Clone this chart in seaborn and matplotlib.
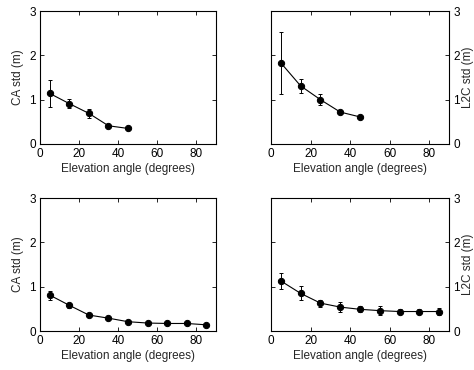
import numpy as np
import pandas as pd
import matplotlib
matplotlib.use("Agg")
import matplotlib.pyplot as plt
import seaborn as sns

# elevation angle bins (degrees)
elev_short = [5, 15, 25, 35, 45]
elev_full = [5, 15, 25, 35, 45, 55, 65, 75, 85]

# top row
ca_top = [1.14, 0.91, 0.69, 0.41, 0.35]
ca_top_err = [0.31, 0.10, 0.10, 0.03, 0.02]
l2c_top = [1.83, 1.31, 1.00, 0.72, 0.61]
l2c_top_err = [0.70, 0.15, 0.12, 0.04, 0.03]

# bottom row
ca_bot = [0.81, 0.58, 0.36, 0.29, 0.21, 0.18, 0.17, 0.17, 0.14]
ca_bot_err = [0.10, 0.06, 0.04, 0.03, 0.02, 0.02, 0.02, 0.02, 0.02]
l2c_bot = [1.13, 0.85, 0.63, 0.54, 0.49, 0.46, 0.44, 0.44, 0.44]
l2c_bot_err = [0.19, 0.16, 0.08, 0.11, 0.07, 0.10, 0.06, 0.06, 0.08]

sns.set_style("ticks")
plt.rcParams['font.family'] = ['Liberation Sans', 'DejaVu Sans']
plt.rcParams['font.size'] = 8.5

fig = plt.figure(figsize=(4.74, 3.70), dpi=100)

panels = [
    # (rect, x, y, err, ylabel, right side)
    ([0.0844, 0.611, 0.3713, 0.359], elev_short, ca_top, ca_top_err, 'CA std (m)', False),
    ([0.5717, 0.611, 0.3755, 0.359], elev_short, l2c_top, l2c_top_err, 'L2C std (m)', True),
    ([0.0844, 0.1054, 0.3713, 0.359], elev_full, ca_bot, ca_bot_err, 'CA std (m)', False),
    ([0.5717, 0.1054, 0.3755, 0.359], elev_full, l2c_bot, l2c_bot_err, 'L2C std (m)', True),
]

for rect, xs, ys, errs, ylab, right in panels:
    ax = fig.add_axes(rect)
    df = pd.DataFrame({'elev': xs, 'std': ys})
    sns.lineplot(data=df, x='elev', y='std', ax=ax, color='black',
                 linewidth=0.8, marker='o', markersize=4.5,
                 markeredgecolor='black', errorbar=None)
    ax.errorbar(xs, ys, yerr=errs, fmt='none', ecolor='black',
                elinewidth=0.7, capsize=1.6, capthick=0.7)
    ax.set_xlim(0, 90)
    ax.set_ylim(0, 3)
    ax.set_xticks([0, 20, 40, 60, 80])
    ax.set_yticks([0, 1, 2, 3])
    ax.set_xlabel('Elevation angle (degrees)', labelpad=2)
    for s in ax.spines.values():
        s.set_linewidth(0.8)
        s.set_color('black')
        s.set_visible(True)
    ax.tick_params(direction='in', top=True, right=True, length=3,
                   width=0.6, pad=3, colors='black')
    if right:
        ax.yaxis.tick_right()
        ax.yaxis.set_label_position('right')
        ax.tick_params(axis='y', left=True, right=True, labelleft=False,
                       labelright=True)
        ax.set_ylabel(ylab, labelpad=1.5)
    else:
        ax.set_ylabel(ylab, labelpad=4)

fig.savefig('out.png', dpi=100)
